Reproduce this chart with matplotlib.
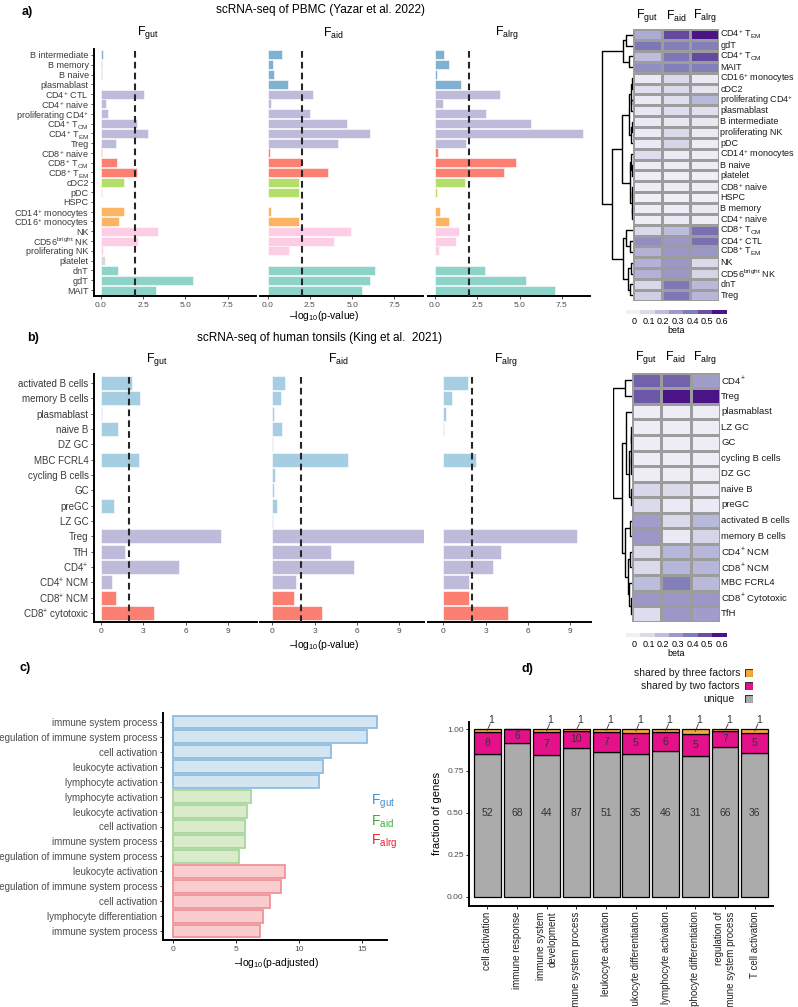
import matplotlib
matplotlib.use('Agg')
import matplotlib.pyplot as plt
import numpy as np
from matplotlib.colors import LinearSegmentedColormap, ListedColormap, Normalize
import matplotlib.colorbar as mcb

plt.rcParams['font.family'] = ['Liberation Sans', 'DejaVu Sans']
plt.rcParams['mathtext.fontset'] = 'custom'
plt.rcParams['mathtext.rm'] = 'Liberation Sans'
plt.rcParams['mathtext.it'] = 'Liberation Sans:italic'
plt.rcParams['mathtext.bf'] = 'Liberation Sans:bold'
plt.rcParams['mathtext.sf'] = 'Liberation Sans'
plt.rcParams['mathtext.default'] = 'regular'

# ---------------- DATA ----------------
# Panel a (PBMC)
a_cells = ["B intermediate", "B memory", "B naive", "plasmablast", "CD4$^{+}$ CTL", "CD4$^{+}$ naive",
           "proliferating CD4$^{+}$", "CD4$^{+}$ T$_{CM}$", "CD4$^{+}$ T$_{EM}$", "Treg", "CD8$^{+}$ naive",
           "CD8$^{+}$ T$_{CM}$", "CD8$^{+}$ T$_{EM}$", "cDC2", "pDC", "HSPC", "CD14$^{+}$ monocytes",
           "CD16$^{+}$ monocytes", "NK", "CD56$^{bright}$ NK", "proliferating NK", "platelet", "dnT", "gdT", "MAIT"]
a_groups = ["B"] * 4 + ["CD4"] * 6 + ["CD8"] * 3 + ["DC", "DC", "other"] + ["mono"] * 2 + ["NK"] * 3 + \
           ["platelet"] + ["T"] * 3
a_gut = [0.12, 0.06, 0.06, 0.02, 2.56, 0.30, 0.40, 2.12, 2.78, 0.87, 0.04, 0.95, 2.12, 1.37, 0.04, 0.0,
         1.39, 1.07, 3.37, 2.16, 0.14, 0.24, 1.03, 5.44, 3.27]
a_aid = [0.83, 0.33, 0.35, 1.22, 2.66, 0.18, 2.48, 4.69, 6.08, 4.17, 0.12, 1.97, 3.56, 1.85, 1.85, 0.0,
         0.20, 1.83, 4.92, 3.90, 1.26, 0.0, 6.34, 6.04, 5.57]
a_alrg = [0.53, 0.83, 0.10, 1.54, 3.84, 0.49, 3.01, 5.71, 8.76, 1.83, 0.18, 4.80, 4.11, 1.79, 0.12, 0.0,
          0.28, 0.83, 1.42, 1.24, 0.24, 0.0, 2.97, 5.41, 7.13]
a_ticks = [0.0, 2.5, 5.0, 7.5]
a_ticklabels = ["0.0", "2.5", "5.0", "7.5"]

# Panel a heatmap
ha_rows = ["CD4$^{+}$ T$_{EM}$", "gdT", "CD4$^{+}$ T$_{CM}$", "MAIT", "CD16$^{+}$ monocytes", "cDC2",
           "proliferating CD4$^{+}$", "plasmablast", "B intermediate", "proliferating NK", "pDC",
           "CD14$^{+}$ monocytes", "B naive", "platelet", "CD8$^{+}$ naive", "HSPC", "B memory",
           "CD4$^{+}$ naive", "CD8$^{+}$ T$_{CM}$", "CD4$^{+}$ CTL", "CD8$^{+}$ T$_{EM}$", "NK",
           "CD56$^{bright}$ NK", "dnT", "Treg"]
ha_gut = [0.24, 0.40, 0.19, 0.33, 0.02, 0.07, 0.02, 0.03, 0.02, 0.02, 0.02, 0.08, 0.01, 0.01, 0.01, 0.0,
          0.01, 0.01, 0.09, 0.33, 0.22, 0.22, 0.22, 0.10, 0.13]
ha_aid = [0.50, 0.38, 0.40, 0.38, 0.09, 0.09, 0.07, 0.08, 0.03, 0.09, 0.11, 0.02, 0.01, 0.0, 0.01, 0.0,
          0.01, 0.02, 0.19, 0.30, 0.30, 0.30, 0.30, 0.40, 0.40]
ha_alrg = [0.62, 0.38, 0.50, 0.38, 0.02, 0.05, 0.20, 0.07, 0.03, 0.02, 0.01, 0.01, 0.01, 0.0, 0.01, 0.0,
           0.02, 0.01, 0.42, 0.42, 0.30, 0.09, 0.11, 0.20, 0.21]

# Panel b (tonsils)
b_cells = ["activated B cells", "memory B cells", "plasmablast", "naive B", "DZ GC", "MBC FCRL4",
           "cycling B cells", "GC", "preGC", "LZ GC", "Treg", "TfH", "CD4$^{+}$", "CD4$^{+}$ NCM",
           "CD8$^{+}$ NCM", "CD8$^{+}$ cytotoxic"]
b_groups = ["B"] * 10 + ["CD4"] * 4 + ["CD8"] * 2
b_gut = [2.23, 2.75, 0.05, 1.23, 0.01, 2.72, 0.01, 0.03, 0.95, 0.02, 8.50, 1.73, 5.52, 0.80, 1.07, 3.74]
b_aid = [0.88, 0.59, 0.14, 0.71, 0.02, 5.38, 0.19, 0.14, 0.31, 0.04, 10.75, 4.19, 5.80, 1.66, 1.54, 3.52]
b_alrg = [1.73, 0.59, 0.19, 0.05, 0.0, 2.30, 0.0, 0.01, 0.0, 0.0, 9.48, 4.12, 3.50, 1.85, 1.80, 4.60]
b_ticks = [0, 3, 6, 9]
b_ticklabels = ["0", "3", "6", "9"]

# Panel b heatmap
hb_rows = ["CD4$^{+}$", "Treg", "plasmablast", "LZ GC", "GC", "cycling B cells", "DZ GC", "naive B",
           "preGC", "activated B cells", "memory B cells", "CD4$^{+}$ NCM", "CD8$^{+}$ NCM", "MBC FCRL4",
           "CD8$^{+}$ Cytotoxic", "TfH"]
hb_gut = [0.45, 0.47, 0.01, 0.01, 0.01, 0.01, 0.01, 0.10, 0.09, 0.28, 0.30, 0.09, 0.09, 0.19, 0.30, 0.08]
hb_aid = [0.45, 0.62, 0.01, 0.01, 0.01, 0.01, 0.01, 0.09, 0.02, 0.09, 0.02, 0.21, 0.21, 0.38, 0.30, 0.30]
hb_alrg = [0.28, 0.60, 0.01, 0.01, 0.01, 0.01, 0.01, 0.02, 0.02, 0.20, 0.11, 0.21, 0.21, 0.20, 0.30, 0.28]

# Panel c (GO enrichment)
c_terms = ["immune system process", "regulation of immune system process", "cell activation",
           "leukocyte activation", "lymphocyte activation",
           "lymphocyte activation", "leukocyte activation", "cell activation", "immune system process",
           "regulation of immune system process",
           "leukocyte activation", "regulation of immune system process", "cell activation",
           "lymphocyte differentiation", "immune system process"]
c_factor = ["gut"] * 5 + ["aid"] * 5 + ["alrg"] * 5
c_vals = [16.2, 15.35, 12.53, 11.9, 11.6, 6.2, 5.85, 5.72, 5.72, 5.24, 8.83, 8.56, 7.66, 7.15, 6.86]
c_ticks = [0, 5, 10, 15]

# Panel d (gene sharing)
d_terms = ["cell activation", "immune response", "immune system\ndevelopment", "immune system process",
           "leukocyte activation", "leukocyte differentiation", "lymphocyte activation",
           "lymphocyte differentiation", "regulation of\nimmune system process", "T cell activation"]
d_unique = [52, 68, 44, 87, 51, 35, 46, 31, 66, 36]
d_two = [8, 6, 7, 10, 7, 5, 6, 5, 7, 5]
d_three = [1, 0, 1, 1, 1, 1, 1, 1, 1, 1]
d_yticks = [0.0, 0.25, 0.5, 0.75, 1.0]
d_yticklabels = ["0.00", "0.25", "0.50", "0.75", "1.00"]

# colours
a_colors = {"B": "#80B1D3", "CD4": "#BEBADA", "CD8": "#FB8072", "DC": "#B3DE69", "other": "#D9D9D9",
            "mono": "#FDB462", "NK": "#FCCDE5", "platelet": "#D9D9D9", "T": "#8DD3C7"}
b_colors = {"B": "#A6CEE3", "CD4": "#BEBADA", "CD8": "#FB8072"}
purples7 = ["#F2F0F7", "#DADAEB", "#BCBDDC", "#9E9AC8", "#807DBA", "#6A51A3", "#4A1486"]
c_fill = {"gut": "#D3E5F0", "aid": "#DAEBCB", "alrg": "#F9CDCE"}
c_edge = {"gut": "#90BCDE", "aid": "#A9D59D", "alrg": "#EE949A"}
c_text = {"gut": "#3E8FD0", "aid": "#3AAA35", "alrg": "#E8222D"}

# dendrogram structures (nested merges: (height, left, right))
tree_a = (1.0,
          (0.32, (0.2, 0, 1), (0.12, 2, 3)),
          (0.68,
           (0.36,
            (0.12, (0.06, (0.03, 4, 5), (0.04, 6, 7)), (0.05, (0.03, 8, 9), 10)),
            (0.1, (0.04, 11, (0.02, 12, 13)), (0.03, (0.015, 14, 15), (0.02, 16, 17)))),
           (0.3, (0.2, 18, (0.1, 19, 20)), (0.16, (0.05, 21, 22), (0.08, 23, 24)))))
tree_b = (1.0,
          (0.36, 0, 1),
          (0.55,
           (0.3, 2, (0.13, (0.03, (0.02, 3, 4), (0.02, 5, 6)), (0.06, 7, 8))),
           (0.35, (0.12, 9, 10), (0.22, (0.08, 11, 12), (0.14, 13, (0.06, 14, 15))))))

# ---------------- FIGURE ----------------
W, H = 798, 1007
fig = plt.figure(figsize=(W / 100, H / 100), dpi=100)
fig.patch.set_facecolor('white')


def px_ax(l, t, r, b):
    return fig.add_axes([l / W, 1 - b / H, (r - l) / W, (b - t) / H])


def ftext(x, y, s, **kw):
    fig.text(x / W, 1 - y / H, s, **kw)


GRAY = '#4d4d4d'


def bar_panel(l, r, t, b, xlim, cats, vals, colors, ticks, ticklabels, first, labsize):
    ax = px_ax(l, t, r, b)
    y = np.arange(len(cats))
    ax.barh(y, vals, height=0.92, color=colors, edgecolor='white', linewidth=0.4, zorder=2)
    ax.axvline(2, color='#262626', lw=1.5, dashes=(3.2, 2.0), zorder=3)
    ax.set_xlim(xlim)
    ax.set_ylim(len(cats) - 0.4, -0.6)
    for s in ['top', 'right']:
        ax.spines[s].set_visible(False)
    ax.spines['bottom'].set_linewidth(1.4)
    ax.spines['left'].set_linewidth(1.4)
    ax.spines['left'].set_visible(first)
    ax.set_xticks(ticks)
    ax.set_xticklabels(ticklabels, fontsize=6, color=GRAY)
    ax.tick_params(axis='x', length=2.5, width=0.6, color='#333333', pad=2)
    if first:
        ax.set_yticks(y)
        ax.set_yticklabels(cats, fontsize=labsize, color='#3a3a3a')
        ax.tick_params(axis='y', length=2, width=0.6, color='#333333', pad=1.5)
    else:
        ax.set_yticks([])
    return ax


# ---- panel a bars ----
a_xlim = (-0.44, 9.2)
a_cols = [a_colors[g] for g in a_groups]
sc_a = 16.9
for (zero, vals, first) in [(101.0, a_gut, True), (267.7, a_aid, False), (435.0, a_alrg, False)]:
    l = zero + a_xlim[0] * sc_a
    r = zero + a_xlim[1] * sc_a
    bar_panel(l, r, 49.1, 295.9, a_xlim, a_cells, vals, a_cols, a_ticks, a_ticklabels, first, 6.5)

ftext(22, 12, "a)", fontsize=9, fontweight='bold', va='center', ha='left')
ftext(320, 10, "scRNA-seq of PBMC (Yazar et al. 2022)", fontsize=8.5, va='center', ha='center')
for x, lab in [(148, "F$_{gut}$"), (333, "F$_{aid}$"), (507, "F$_{alrg}$")]:
    ftext(x, 33, lab, fontsize=9, va='center', ha='center')
ftext(324, 316, "\u2013log$_{10}$(p-value)", fontsize=7.5, va='center', ha='center')

# ---- panel b bars ----
b_cols = [b_colors[g] for g in b_groups]
sc_b = 14.1
for (l, r, zero, vals, first) in [(93.6, 256.5, 101.0, b_gut, True), (260.3, 423.5, 272.3, b_aid, False),
                                  (427.6, 590.5, 443.3, b_alrg, False)]:
    xlim = ((l - zero) / sc_b, (r - zero) / sc_b)
    bar_panel(l, r, 373.8, 622.2, xlim, b_cells, vals, b_cols, b_ticks, b_ticklabels, first, 7)

ftext(27, 338, "b)", fontsize=9, fontweight='bold', va='center', ha='left')
ftext(320, 338, "scRNA-seq of human tonsils (King et al.  2021)", fontsize=8.5, va='center', ha='center')
for x, lab in [(157, "F$_{gut}$"), (338, "F$_{aid}$"), (506, "F$_{alrg}$")]:
    ftext(x, 359, lab, fontsize=9, va='center', ha='center')
ftext(324, 645, "\u2013log$_{10}$(p-value)", fontsize=7.5, va='center', ha='center')

# ---- heatmaps ----
cmap_cont = LinearSegmentedColormap.from_list("purp", purples7)
hm_norm = Normalize(vmin=-0.008, vmax=0.585)


def draw_tree(ax, node, ypos):
    if isinstance(node, int):
        return ypos[node], 0.0
    h, left, right = node
    yl, hl = draw_tree(ax, left, ypos)
    yr, hr = draw_tree(ax, right, ypos)
    ax.plot([hl, h, h, hr], [yl, yl, yr, yr], color='black', lw=1.0, solid_capstyle='butt')
    return (yl + yr) / 2.0, h


def heatmap(l, r, t, b, cols, rows, tree, dendro_l, col_y, cb_t, labsize):
    n = len(rows)
    data = np.array(cols).T
    ax = px_ax(l, t, r, b)
    ax.pcolormesh(np.arange(4), np.arange(n + 1), data, cmap=cmap_cont, norm=hm_norm,
                  edgecolors='#9c9c9c', linewidth=0.9)
    ax.set_xlim(0, 3)
    ax.set_ylim(n, 0)
    ax.axis('off')
    for i, lab in enumerate(rows):
        ax.text(3.04, i + 0.5, lab, va='center', ha='left', fontsize=labsize, color='#1a1a1a')
    cw = (r - l) / 3
    for j, lab in enumerate(["F$_{gut}$", "F$_{aid}$", "F$_{alrg}$"]):
        ftext(l + cw * (j + 0.5), col_y, lab, fontsize=9, va='center', ha='center')
    # dendrogram
    dax = px_ax(dendro_l, t, l, b)
    draw_tree(dax, tree, np.arange(n) + 0.5)
    dax.set_xlim(1.02, 0)
    dax.set_ylim(n, 0)
    dax.axis('off')
    # colorbar
    cax = px_ax(625.7, cb_t, 726.7, cb_t + 4)
    cb = mcb.ColorbarBase(cax, cmap=ListedColormap(purples7), norm=Normalize(-0.057, 0.634),
                          orientation='horizontal')
    cb.outline.set_visible(False)
    cb.set_ticks([0, 0.1, 0.2, 0.3, 0.4, 0.5, 0.6])
    cb.set_ticklabels(["0", "0.1", "0.2", "0.3", "0.4", "0.5", "0.6"])
    cax.tick_params(length=0, labelsize=6.5, pad=2.5)
    cax.set_xlabel("beta", fontsize=6.5, labelpad=0)


heatmap(632.7, 719.3, 29.3, 300.7, [ha_gut, ha_aid, ha_alrg], ha_rows, tree_a, 601, 16, 310, 6.5)
heatmap(631.7, 720.0, 372.7, 621.7, [hb_gut, hb_aid, hb_alrg], hb_rows, tree_b, 613, 357, 633, 6.8)

# ---- panel c ----
axc = px_ax(163, 713, 387, 940)
yc = np.arange(len(c_terms))
axc.barh(yc, c_vals, height=0.86, color=[c_fill[f] for f in c_factor],
         edgecolor=[c_edge[f] for f in c_factor], linewidth=1.3)
axc.set_xlim(-0.82, 16.96)
axc.set_ylim(len(c_terms) - 0.4, -0.6)
for s in ['top', 'right']:
    axc.spines[s].set_visible(False)
axc.spines['bottom'].set_linewidth(1.4)
axc.spines['left'].set_linewidth(1.4)
axc.set_yticks(yc)
axc.set_yticklabels(c_terms, fontsize=7, color=GRAY)
axc.set_xticks(c_ticks)
axc.set_xticklabels([str(t) for t in c_ticks], fontsize=6, color=GRAY)
axc.tick_params(axis='both', length=2, width=0.6, pad=2)
ftext(276, 963, "\u2013log$_{10}$(p-adjusted)", fontsize=7.5, va='center', ha='center')
ftext(20, 668, "c)", fontsize=9, fontweight='bold', va='center', ha='left')
for y, f in [(802, "gut"), (822, "aid"), (842, "alrg")]:
    ftext(371, y, "F$_{%s}$" % f, fontsize=10, va='center', ha='left', color=c_text[f])

# ---- panel d ----
axd = px_ax(469.3, 721.7, 772.7, 905.7)
xd = np.arange(1, len(d_terms) + 1)
tot = np.array(d_unique) + np.array(d_two) + np.array(d_three)
f_u = np.array(d_unique) / tot
f_2 = np.array(d_two) / tot
f_3 = np.array(d_three) / tot
axd.bar(xd, f_u, width=0.9, color='#ABABAB', edgecolor='black', linewidth=0.9)
axd.bar(xd, f_2, bottom=f_u, width=0.9, color='#E5118A', edgecolor='black', linewidth=0.9)
axd.bar(xd, f_3, bottom=f_u + f_2, width=0.9, color='#F5A83A', edgecolor='black', linewidth=0.9)
for i in range(len(xd)):
    axd.text(xd[i], 0.5, str(d_unique[i]), ha='center', va='center', fontsize=7.5, color='#333333')
    axd.text(xd[i], f_u[i] + f_2[i] / 2, str(d_two[i]), ha='center', va='center', fontsize=7.5,
             color='#333333')
    if d_three[i] > 0:
        ytop = f_u[i] + f_2[i] + f_3[i] / 2
        axd.plot([xd[i], xd[i] + 0.1], [ytop, 1.03], color='#333333', lw=0.6, clip_on=False)
        axd.text(xd[i] + 0.13, 1.055, str(d_three[i]), ha='center', va='center', fontsize=7.5,
                 color='#333333', clip_on=False)
axd.set_xlim(0.4, len(d_terms) + 0.6)
axd.set_ylim(-0.054, 1.044)
for s in ['top', 'right']:
    axd.spines[s].set_visible(False)
axd.spines['bottom'].set_linewidth(1.4)
axd.spines['left'].set_linewidth(1.4)
axd.set_yticks(d_yticks)
axd.set_yticklabels(d_yticklabels, fontsize=6, color=GRAY)
axd.set_xticks(xd)
axd.set_xticklabels(d_terms, rotation=90, fontsize=7, color='#222222', va='top', ha='center',
                    multialignment='right')
axd.tick_params(axis='both', length=2, width=0.6, pad=2)
axd.set_ylabel("fraction of genes", fontsize=8, labelpad=4)
ftext(522, 669, "d)", fontsize=9, fontweight='bold', va='center', ha='left')
for y, lab, xr, col in [(673, "shared by three factors", 740.7, '#F5A83A'),
                        (686, "shared by two factors", 739.3, '#E5118A'),
                        (699, "unique", 734.7, '#ABABAB')]:
    ftext(xr, y, lab, fontsize=7.5, va='center', ha='right', color='#1a1a1a')
    lax = px_ax(745, y - 4, 753, y + 4)
    lax.add_patch(plt.Rectangle((0, 0), 1, 1, facecolor=col, edgecolor='#333333', lw=0.8))
    lax.set_xlim(0, 1)
    lax.set_ylim(0, 1)
    lax.axis('off')

fig.savefig("out.png", dpi=100, facecolor='white')
